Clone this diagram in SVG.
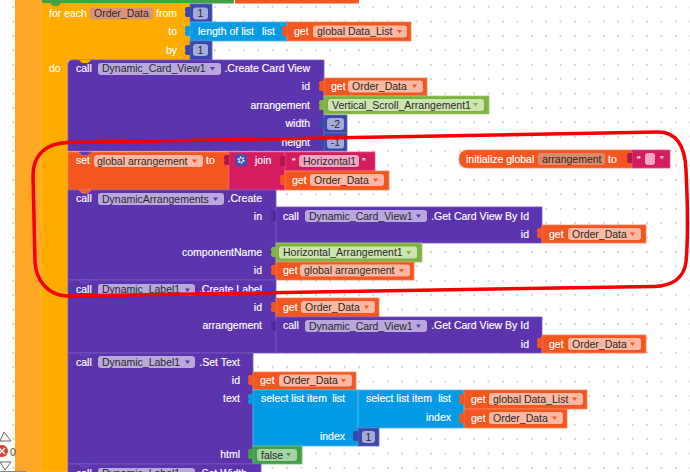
<svg xmlns="http://www.w3.org/2000/svg" width="690" height="472" viewBox="0 0 690 472">
<style>
text{font-family:"Liberation Sans",Arial,sans-serif;font-size:10.5px;fill:#fff;stroke:#fff;stroke-width:.15}
text.d{fill:#2a2a2a;stroke:none}.e{text-anchor:end}.m{text-anchor:middle}
.pu{fill:#5c35ae;stroke:#7657c0;stroke-width:.8}.or{fill:#f4561f;stroke:#fb8257;stroke-width:.8}.pk{fill:#d41c5f;stroke:#e2558a;stroke-width:.8}
.bl{fill:#039be5;stroke:#4cb9ee;stroke-width:.8}.gr{fill:#7cb342;stroke:#a0cb72;stroke-width:.8}.gn{fill:#43a047;stroke:#73bb76;stroke-width:.8}.nv{fill:#3949ab;stroke:#5f6dc0;stroke-width:.8}
.am{fill:#ffab00}.tpu{fill:#4f2c9c}.tor{fill:#f4561f}.tpk{fill:#b0174f}.tbl{fill:#039be5}.tgr{fill:#7cb342}.tgn{fill:#43a047}.tnv{fill:#3949ab}
.ppu{fill:#b9a7de}.por{fill:#fcb8a2}.pam{fill:#d9937a}.pin{fill:#dc8a6e}.pgr{fill:#cde3b0}.pgn{fill:#a5d3a7}.pnv{fill:#a2abd9}.ppk{fill:#f2a7c3}
.apu{fill:#5c35ae}.aor{fill:#f4561f}.agr{fill:#7cb342}
</style>
<defs>
<pattern id="grid" x="13.4" y="7.2" width="14.4" height="14.4" patternUnits="userSpaceOnUse"><circle cx="0" cy="0" r="1.1" fill="#d2d2d2"/><circle cx="14.4" cy="0" r="1.1" fill="#d2d2d2"/><circle cx="0" cy="14.4" r="1.1" fill="#d2d2d2"/><circle cx="14.4" cy="14.4" r="1.1" fill="#d2d2d2"/></pattern>
<path id="tab" d="M0 4H-3Q-5 4-5 6V7.500Q-5 9-3.500 9Q-5 9-5 10.500V12Q-5 14-3 14H0Z"/>
<path id="tri" d="M0 0H5L2.500 3.500Z"/>
</defs>
<rect width="690" height="472" fill="#fff"/>
<rect width="690" height="472" fill="url(#grid)"/>
<g id="band">
<rect x="15" y="0" width="27" height="472" fill="#ffa726"/>
<rect x="41" y="3" width="27" height="469" fill="#ffab00" stroke="#ffc246" stroke-width=".6"/>
<rect x="42" y="0" width="192" height="3.500" fill="#43a047"/>
<rect x="235" y="0" width="124" height="3.500" fill="#f4561f"/>
</g>
<g id="for-each">
<rect x="42" y="3" width="148" height="57" class="am"/>
<path d="M50 3l3 3h5l3-3z" fill="#43a047"/>
<text x="49" y="17">for each</text>
<rect x="90" y="7.500" width="63" height="12" rx="3" class="pam"/><text x="94" y="17" class="d">Order_Data</text>
<text x="177" y="17" class="e">from</text><text x="177" y="35" class="e">to</text><text x="177" y="54" class="e">by</text>
<text x="49" y="72">do</text>
</g>
<g id="num-from"><rect x="190" y="4" width="22" height="18" class="nv"/><use href="#tab" x="190" y="3" class="tnv"/><rect x="193" y="7.500" width="15" height="12" rx="3" class="pnv"/><text x="200.500" y="17" class="d m">1</text></g>
<g id="length-of-list"><rect x="190" y="22" width="97" height="19" class="bl"/><use href="#tab" x="190" y="22" class="tbl"/><text x="198" y="35">length of list</text><text x="262" y="35">list</text></g>
<g id="get-data-list-1"><rect x="287" y="22" width="124" height="19" class="or"/><use href="#tab" x="287" y="22" class="tor"/><text x="294" y="35">get</text><rect x="313" y="25.500" width="94" height="12" rx="3" class="por"/><text x="317" y="35" class="d">global Data_List</text><use href="#tri" x="397" y="30" class="aor"/></g>
<g id="num-by"><rect x="190" y="41" width="22" height="19" class="nv"/><use href="#tab" x="190" y="41" class="tnv"/><rect x="193" y="44" width="15" height="12" rx="3" class="pnv"/><text x="200.500" y="54" class="d m">1</text></g>

<g id="create-card-view">
<path d="M72 60H324V151H68V64Q68 60 72 60Z" class="pu"/>
<path d="M79 60l3 3h6l3-3z" class="am"/>
<text x="76" y="72">call</text>
<rect x="98" y="63" width="123" height="12" rx="3" class="ppu"/><text x="102" y="72" class="d">Dynamic_Card_View1</text><use href="#tri" x="210" y="67" class="apu"/>
<text x="310" y="72" class="e">.Create Card View</text>
<text x="310" y="90" class="e">id</text><text x="310" y="109" class="e">arrangement</text><text x="310" y="127" class="e">width</text><text x="310" y="146" class="e">height</text>
</g>
<g id="get-order-1"><rect x="324" y="78" width="103" height="18" class="or"/><use href="#tab" x="324" y="77" class="tor"/><text x="331" y="90">get</text><rect x="348" y="80.500" width="75" height="12" rx="3" class="por"/><text x="352" y="90" class="d">Order_Data</text><use href="#tri" x="412" y="84.500" class="aor"/></g>
<g id="vertical-scroll"><rect x="324" y="96" width="165" height="18" class="gr"/><use href="#tab" x="324" y="96" class="tgr"/><rect x="328" y="99" width="156" height="12" rx="3" class="pgr"/><text x="332" y="108.500" class="d">Vertical_Scroll_Arrangement1</text><use href="#tri" x="473" y="103" class="agr"/></g>
<g id="num-width"><rect x="324" y="115" width="23" height="18" class="nv"/><use href="#tab" x="324" y="114" class="tnv"/><rect x="327" y="118" width="17" height="12" rx="3" class="pnv"/><text x="335.500" y="127.500" class="d m">-2</text></g>
<g id="num-height"><rect x="324" y="133" width="23" height="18" class="nv"/><use href="#tab" x="324" y="133" class="tnv"/><rect x="327" y="136.500" width="17" height="12" rx="3" class="pnv"/><text x="335.500" y="146" class="d m">-1</text></g>

<g id="set-global">
<rect x="68" y="152" width="161" height="38" class="or"/>
<path d="M79 152l3 3h6l3-3z" class="pu"/>
<text x="76" y="164">set</text>
<rect x="94" y="155" width="109" height="12" rx="3" class="por"/><text x="97" y="164.500" class="d">global arrangement</text><use href="#tri" x="192" y="159.500" class="aor"/>
<text x="206" y="164">to</text>
</g>
<g id="join"><rect x="229" y="152" width="56" height="38" class="pk"/><use href="#tab" x="229" y="151" class="tpk"/><rect x="235" y="154" width="12" height="12" rx="3" fill="#3f51b5"/><circle cx="241" cy="160" r="2.800" fill="none" stroke="#e6e6f5" stroke-width="1.800" stroke-dasharray="1.500 1.400"/><circle cx="241" cy="160" r="2" fill="none" stroke="#e6e6f5" stroke-width=".8"/><text x="255" y="164">join</text></g>
<g id="text-horizontal"><rect x="285" y="152" width="90" height="19" class="pk"/><use href="#tab" x="285" y="152" class="tpk"/><text x="292" y="166">“</text><rect x="299" y="155" width="60" height="12" rx="3" class="ppk"/><text x="303" y="164.500" class="d">Horizontal1</text><text x="362" y="166">”</text></g>
<g id="get-order-2"><rect x="285" y="171" width="104" height="19" class="or"/><use href="#tab" x="285" y="171" class="tor"/><text x="292" y="183.500">get</text><rect x="310" y="174" width="74" height="12" rx="3" class="por"/><text x="314" y="183.500" class="d">Order_Data</text><use href="#tri" x="373" y="178.500" class="aor"/></g>
<g id="init-global"><path d="M468 150H632V168H468Q459 168 459 159Q459 150 468 150Z" class="or"/><text x="466" y="163">initialize global</text><rect x="538" y="153" width="67" height="12" rx="3" class="pin"/><text x="542" y="162.500" class="d">arrangement</text><text x="608" y="163">to</text></g>
<g id="init-text"><rect x="632" y="150" width="38" height="18" class="pk"/><use href="#tab" x="632" y="149" class="tpk"/><text x="637" y="164">“</text><rect x="645" y="153" width="10" height="12" rx="3" class="ppk"/><text x="660" y="164">”</text></g>

<g id="dynamic-arrangements">
<rect x="68" y="190" width="208" height="90" class="pu"/>
<path d="M79 190l3 3h6l3-3z" class="or"/>
<text x="76" y="202">call</text>
<rect x="98" y="193" width="126" height="12" rx="3" class="ppu"/><text x="102" y="202.500" class="d">DynamicArrangements</text><use href="#tri" x="213" y="197.500" class="apu"/>
<text x="262" y="202" class="e">.Create</text>
<text x="262" y="220" class="e">in</text><text x="262" y="256" class="e">componentName</text><text x="262" y="274" class="e">id</text>
</g>
<g id="get-card-1">
<rect x="276" y="207" width="266" height="36" class="pu"/><use href="#tab" x="276" y="207" class="tpu"/>
<text x="283" y="220">call</text>
<rect x="305" y="210" width="122" height="12" rx="3" class="ppu"/><text x="309" y="219.500" class="d">Dynamic_Card_View1</text><use href="#tri" x="416" y="214.500" class="apu"/>
<text x="529" y="220" class="e">.Get Card View By Id</text><text x="529" y="237.500" class="e">id</text>
</g>
<g id="get-order-3"><rect x="542" y="225" width="104" height="18" class="or"/><use href="#tab" x="542" y="224" class="tor"/><text x="549" y="237.500">get</text><rect x="568" y="228" width="73" height="12" rx="3" class="por"/><text x="572" y="237.500" class="d">Order_Data</text><use href="#tri" x="630" y="232.500" class="aor"/></g>
<g id="horizontal-arr"><rect x="276" y="243" width="146" height="19" class="gr"/><use href="#tab" x="276" y="243" class="tgr"/><rect x="279" y="246.500" width="138" height="12" rx="3" class="pgr"/><text x="283" y="256" class="d">Horizontal_Arrangement1</text><use href="#tri" x="406" y="251" class="agr"/></g>
<g id="get-arrangement"><rect x="276" y="262" width="138" height="18" class="or"/><use href="#tab" x="276" y="261" class="tor"/><text x="283" y="274">get</text><rect x="300" y="264.500" width="110" height="12" rx="3" class="por"/><text x="304" y="274" class="d">global arrangement</text><use href="#tri" x="399" y="269" class="aor"/></g>

<g id="create-label">
<rect x="68" y="280" width="208" height="73" class="pu"/>
<path d="M79 280l3 3h6l3-3z" class="pu"/>
<text x="76" y="293">call</text>
<rect x="98" y="284" width="97" height="12" rx="3" class="ppu"/><text x="102" y="293" class="d">Dynamic_Label1</text><use href="#tri" x="185" y="288.500" class="apu"/>
<text x="262" y="293" class="e">.Create Label</text>
<text x="262" y="311" class="e">id</text><text x="262" y="329" class="e">arrangement</text>
</g>
<g id="get-order-4"><rect x="276" y="298" width="103" height="19" class="or"/><use href="#tab" x="276" y="298" class="tor"/><text x="283" y="311">get</text><rect x="301" y="301" width="74" height="12" rx="3" class="por"/><text x="305" y="311" class="d">Order_Data</text><use href="#tri" x="364" y="305.500" class="aor"/></g>
<g id="get-card-2">
<rect x="276" y="317" width="266" height="36" class="pu"/><use href="#tab" x="276" y="317" class="tpu"/>
<text x="283" y="329">call</text>
<rect x="305" y="320" width="122" height="12" rx="3" class="ppu"/><text x="309" y="329.500" class="d">Dynamic_Card_View1</text><use href="#tri" x="416" y="324.500" class="apu"/>
<text x="529" y="329" class="e">.Get Card View By Id</text><text x="529" y="347.500" class="e">id</text>
</g>
<g id="get-order-5"><rect x="542" y="335" width="104" height="18" class="or"/><use href="#tab" x="542" y="334" class="tor"/><text x="549" y="347.500">get</text><rect x="568" y="338" width="73" height="12" rx="3" class="por"/><text x="572" y="347.500" class="d">Order_Data</text><use href="#tri" x="630" y="342.500" class="aor"/></g>

<g id="set-text">
<rect x="68" y="353" width="185" height="111" class="pu"/>
<path d="M79 353l3 3h6l3-3z" class="pu"/>
<text x="76" y="366">call</text>
<rect x="98" y="356" width="97" height="12" rx="3" class="ppu"/><text x="102" y="366" class="d">Dynamic_Label1</text><use href="#tri" x="185" y="360.500" class="apu"/>
<text x="240" y="366" class="e">.Set Text</text>
<text x="240" y="384" class="e">id</text><text x="240" y="402" class="e">text</text><text x="240" y="458" class="e">html</text>
</g>
<g id="get-order-6"><rect x="253" y="372" width="103" height="18" class="or"/><use href="#tab" x="253" y="371" class="tor"/><text x="260" y="384">get</text><rect x="279" y="374.500" width="73" height="12" rx="3" class="por"/><text x="283" y="384" class="d">Order_Data</text><use href="#tri" x="341" y="379" class="aor"/></g>
<g id="select-outer"><rect x="253" y="390" width="105" height="56" class="bl"/><use href="#tab" x="253" y="390" class="tbl"/><text x="261" y="402">select list item</text><text x="345" y="402" class="e">list</text><text x="345" y="440" class="e">index</text></g>
<g id="select-inner"><rect x="358" y="390" width="106" height="38" class="bl"/><text x="366" y="402">select list item</text><text x="451" y="402" class="e">list</text><text x="451" y="421" class="e">index</text></g>
<g id="get-data-list-2"><rect x="464" y="390" width="123" height="19" class="or"/><use href="#tab" x="464" y="390" class="tor"/><text x="471" y="403">get</text><rect x="489" y="393" width="94" height="12" rx="3" class="por"/><text x="493" y="402.500" class="d">global Data_List</text><use href="#tri" x="572" y="397.500" class="aor"/></g>
<g id="get-order-7"><rect x="464" y="409" width="103" height="19" class="or"/><use href="#tab" x="464" y="409" class="tor"/><text x="471" y="421.500">get</text><rect x="489" y="412" width="74" height="12" rx="3" class="por"/><text x="493" y="421.500" class="d">Order_Data</text><use href="#tri" x="552" y="416.500" class="aor"/></g>
<g id="num-index"><rect x="358" y="428" width="21" height="18" class="nv"/><use href="#tab" x="358" y="427" class="tnv"/><rect x="362" y="431" width="13" height="12" rx="3" class="pnv"/><text x="368.500" y="440.500" class="d m">1</text></g>
<g id="false"><rect x="253" y="446" width="49" height="18" class="gn"/><use href="#tab" x="253" y="445" class="tgn"/><rect x="257" y="449" width="40" height="12" rx="3" class="pgn"/><text x="261" y="458.500" class="d">false</text><use href="#tri" x="286" y="453" class="tgn"/></g>
<g id="set-width">
<rect x="68" y="464" width="193" height="9" class="pu"/>
<path d="M79 464l3 3h6l3-3z" class="pu"/>
<text x="76" y="477">call</text>
<rect x="98" y="468" width="97" height="12" rx="3" class="ppu"/><text x="102" y="477" class="d">Dynamic_Label1</text>
<text x="247" y="477" class="e">.Set Width</text>
</g>

<g id="warnings">
<path d="M0 441L4 432L11 441Z" fill="#fff" stroke="#666"/>
<circle cx="2" cy="451" r="6" fill="#e53935"/><path d="M-1 448L5 454M5 448L-1 454" stroke="#fff" stroke-width="1.500"/>
<text x="10" y="456" style="fill:#555;stroke:none">0</text>
<path d="M0 462L11 462L5 470Z" fill="#fff" stroke="#666"/>
<rect x="0" y="471" width="26" height="1" fill="#888"/>
</g>
<g id="highlight"><path d="M68 142.500C270 139 470 137 658 132C676 132 685 146 686 170C688 210 688 240 686 262C684 278 672 286 654 286.500C470 288 270 292 68 296C48 296 36 280 35 262L33 175C33 155 46 143 68 142.500Z" fill="none" stroke="#f40000" stroke-width="3.500"/></g>
</svg>
